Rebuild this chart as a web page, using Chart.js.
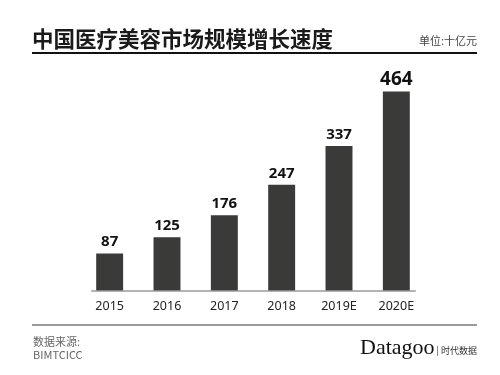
<!DOCTYPE html>
<html>
<head>
<meta charset="utf-8">
<script src="https://cdn.jsdelivr.net/npm/chart.js@4"></script>
<style>
    html, body { margin: 0; padding: 0; background: #fff; }
    #wrap { position: relative; width: 500px; height: 375px; font-family: "Noto Sans CJK SC", "Noto Sans", sans-serif; }
    #chart { position: absolute; left: 0; top: 0; }
    .txt { position: absolute; white-space: nowrap; }
    #title { left: 32px; top: 24px; font-size: 21.5px; font-weight: bold; color: #1a1a1a; line-height: 28px; }
    #unit { right: 23px; top: 32px; font-size: 11px; color: #444; line-height: 16px; }
    #rule1 { position: absolute; left: 32px; width: 445px; top: 52px; height: 2px; background: #111; }
    #rule2 { position: absolute; left: 32px; width: 445px; top: 324px; height: 2px; background: #9a9a9a; }
    #src { left: 33px; top: 335px; font-size: 11px; color: #666; line-height: 13px; }
    #brand { right: 23px; top: 335px; color: #111; line-height: 24px; }
    #brand .big { font-family: "Liberation Serif", serif; font-size: 22px; }
    #brand .small { font-size: 9px; color: #333; }
</style>
</head>
<body>
<div id="wrap">
    <canvas id="chart" width="500" height="375"></canvas>
    <div class="txt" id="title">中国医疗美容市场规模增长速度</div>
    <div class="txt" id="unit">单位:十亿元</div>
    <div id="rule1"></div>
    <div id="rule2"></div>
    <div class="txt" id="src">数据来源:<br>BIMTCICC</div>
    <div class="txt" id="brand"><span class="big">Datagoo</span><span class="small"> | 时代数据</span></div>
</div>
<script>
// Data
const years = ["2015", "2016", "2017", "2018", "2019E", "2020E"];
const marketSize = [87, 125, 176, 247, 337, 464];

// value labels above bars + short baseline
const barDecor = {
    id: "barDecor",
    afterDatasetsDraw(chart) {
        const ctx = chart.ctx;
        const meta = chart.getDatasetMeta(0);
        const bars = meta.data;
        const yScale = chart.scales.y;
        const base = yScale.getPixelForValue(0);

        // baseline
        ctx.save();
        ctx.strokeStyle = "#9a9a9a";
        ctx.lineWidth = 1.5;
        ctx.beginPath();
        ctx.moveTo(bars[0].x - bars[0].width / 2 - 5, base);
        ctx.lineTo(bars[bars.length - 1].x + bars[bars.length - 1].width / 2 + 6, base);
        ctx.stroke();

        ctx.fillStyle = "#111";
        ctx.textAlign = "center";
        ctx.textBaseline = "bottom";
        bars.forEach((bar, i) => {
            const last = i === bars.length - 1;
            ctx.font = "bold " + (last ? 19 : 15) + "px 'Noto Sans', sans-serif";
            ctx.fillText(marketSize[i], bar.x, bar.y - (last ? 2 : 4));
        });
        ctx.restore();
    }
};

new Chart(document.getElementById("chart"), {
    type: "bar",
    data: {
        labels: years,
        datasets: [{
            data: marketSize,
            backgroundColor: "#3a3a38",
            categoryPercentage: 1,
            barPercentage: 0.47
        }]
    },
    options: {
        responsive: false,
        animation: false,
        layout: { padding: { left: 81, right: 75, top: 76, bottom: 61 } },
        plugins: {
            legend: { display: false },
            tooltip: { enabled: false }
        },
        scales: {
            x: {
                grid: { display: false },
                border: { display: false },
                ticks: {
                    color: "#222",
                    padding: 0,
                    font: { size: 12.5, family: "'Noto Sans', sans-serif" }
                }
            },
            y: {
                display: false,
                min: 0,
                max: 500
            }
        }
    },
    plugins: [barDecor]
});
</script>
</body>
</html>
